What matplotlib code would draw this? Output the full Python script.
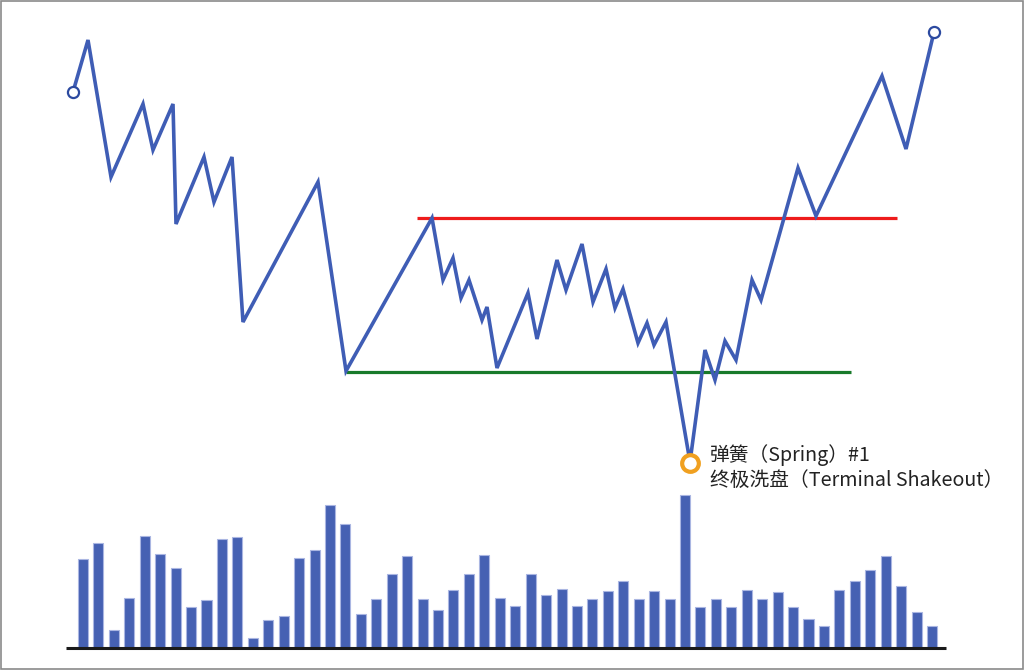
import matplotlib
matplotlib.use("Agg")
import matplotlib.pyplot as plt
from matplotlib.patches import Rectangle

plt.rcParams['font.family'] = ['Noto Sans CJK SC', 'DejaVu Sans']

# Price path vertices (time position, price level)
px = [73, 88, 111, 143, 153, 173, 176, 204, 214, 232, 243, 318, 346, 432,
      443, 453, 461, 469, 482, 487, 497, 528, 537, 557, 566, 582, 593, 606,
      615, 623, 638, 647, 654, 666, 690, 705, 715, 725, 736, 752, 761, 798,
      816, 882, 906, 934]
py_img = [92, 40, 177, 104, 150, 104, 224, 157, 202, 157, 322, 182, 371, 218,
          280, 258, 298, 280, 320, 307, 368, 293, 339, 260, 290, 244, 302, 269,
          308, 289, 343, 323, 345, 322, 462, 350, 380, 341, 360, 280, 300, 168,
          216, 76, 149, 32]
price = [670 - v for v in py_img]

resistance_level = 670 - 218
resistance_span = (417, 897)
support_level = 670 - 372
support_span = (346, 851)
spring_x, spring_price = 690, 670 - 463

volume = [89, 105, 18, 50, 112, 94, 80, 41, 48, 109, 111, 10, 28, 32, 90, 98,
          143, 124, 34, 49, 74, 92, 49, 38, 58, 74, 93, 50, 42, 74, 53, 59,
          42, 49, 57, 67, 49, 57, 49, 153, 41, 49, 41, 58, 49, 56, 41, 29,
          22, 58, 67, 78, 92, 62, 36, 22]

label_line1 = "弹簧（Spring）#1"
label_line2 = "终极洗盘（Terminal Shakeout）"

W, H = 1024, 670
fig = plt.figure(figsize=(W / 100, H / 100), dpi=100)
fig.patch.set_facecolor('white')

# Price axes
ax = fig.add_axes([0, 0, 1, 1])
ax.set_xlim(0, W)
ax.set_ylim(0, H)
ax.axis('off')

line_color = '#3f5db5'
ax.hlines(resistance_level, *resistance_span, color='#ee1c1c', lw=2.3, zorder=2)
ax.hlines(support_level, *support_span, color='#187a2a', lw=2.3, zorder=2)
ax.plot(px, price, color=line_color, lw=2.6, solid_joinstyle='miter', zorder=3)
ax.plot([px[0]], [price[0]], 'o', ms=8, mfc='white', mec='#2c4aa0', mew=1.6, zorder=4)
ax.plot([px[-1]], [price[-1]], 'o', ms=8, mfc='white', mec='#2c4aa0', mew=1.6, zorder=4)
ax.plot([spring_x], [spring_price], 'o', ms=12, mfc='white', mec='#f0a020', mew=3, zorder=5)

ax.text(710, 670 - 455, label_line1, fontsize=14.2, color='#222222', va='center', ha='left')
ax.text(710, 670 - 480, label_line2, fontsize=14.2, color='#222222', va='center', ha='left')

# Volume axes
x0_px, step_px = 83, 849 / 55
xmin = -x0_px / step_px
xmax = xmin + W / step_px
base_px = 648
vax = fig.add_axes([0, (H - base_px) / H, 1, 200 / H])
vax.set_xlim(xmin, xmax)
vax.set_ylim(0, 200)
vax.axis('off')
vax.patch.set_alpha(0)
vax.bar(range(len(volume)), volume, width=0.65, color='#4661b3',
        edgecolor='#aab6e2', linewidth=0.8, zorder=2)
vax.plot([(66 - x0_px) / step_px, (946 - x0_px) / step_px], [0, 0],
         color='#1a1a1a', lw=2.2, solid_capstyle='butt', zorder=3, clip_on=False)

# Frame border
fig.patches.append(Rectangle((0.001, 0.0015), 0.998, 0.997, transform=fig.transFigure,
                             fill=False, edgecolor='#8a8a8a', lw=1.2))

fig.savefig('out.png', dpi=100)
